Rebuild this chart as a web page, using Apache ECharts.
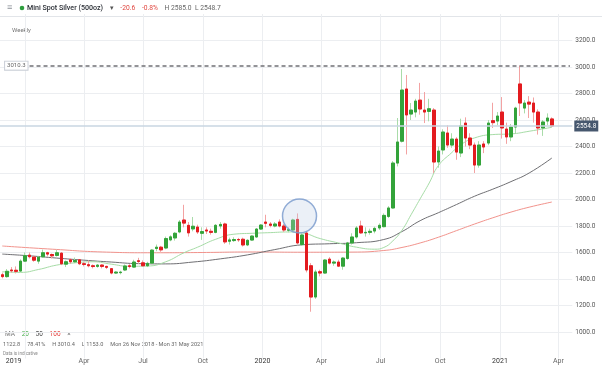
<!DOCTYPE html>
<html><head><meta charset="utf-8">
<script src="https://cdn.jsdelivr.net/npm/echarts@6/dist/echarts.min.js"></script>
<style>html,body{margin:0;padding:0;background:#fff}#c{width:602px;height:369px}</style>
</head><body><div id="c"></div>
<script>
// ---- categories: weekly candles (Monday dates), plus a few empty future weeks
const weeks = [
'2018-11-26','2018-12-03','2018-12-10','2018-12-17','2018-12-24','2018-12-31',
'2019-01-07','2019-01-14','2019-01-21','2019-01-28','2019-02-04','2019-02-11','2019-02-18','2019-02-25',
'2019-03-04','2019-03-11','2019-03-18','2019-03-25','2019-04-01','2019-04-08','2019-04-15','2019-04-22',
'2019-04-29','2019-05-06','2019-05-13','2019-05-20','2019-05-27','2019-06-03','2019-06-10','2019-06-17',
'2019-06-24','2019-07-01','2019-07-08','2019-07-15','2019-07-22','2019-07-29','2019-08-05','2019-08-12',
'2019-08-19','2019-08-26','2019-09-02','2019-09-09','2019-09-16','2019-09-23','2019-09-30','2019-10-07',
'2019-10-14','2019-10-21','2019-10-28','2019-11-04','2019-11-11','2019-11-18','2019-11-25','2019-12-02',
'2019-12-09','2019-12-16','2019-12-23','2019-12-30',
'2020-01-06','2020-01-13','2020-01-20','2020-01-27','2020-02-03','2020-02-10','2020-02-17','2020-02-24',
'2020-03-02','2020-03-09','2020-03-16','2020-03-23','2020-03-30','2020-04-06','2020-04-13','2020-04-20',
'2020-04-27','2020-05-04','2020-05-11','2020-05-18','2020-05-25','2020-06-01','2020-06-08','2020-06-15',
'2020-06-22','2020-06-29','2020-07-06','2020-07-13','2020-07-20','2020-07-27','2020-08-03','2020-08-10',
'2020-08-17','2020-08-24','2020-08-31','2020-09-07','2020-09-14','2020-09-21','2020-09-28','2020-10-05',
'2020-10-12','2020-10-19','2020-10-26','2020-11-02','2020-11-09','2020-11-16','2020-11-23','2020-11-30',
'2020-12-07','2020-12-14','2020-12-21','2020-12-28',
'2021-01-04','2021-01-11','2021-01-18','2021-01-25','2021-02-01','2021-02-08','2021-02-15','2021-02-22',
'2021-03-01','2021-03-08','2021-03-15','2021-03-22','2021-03-29','2021-04-05','2021-04-12','2021-04-19'
];
// ---- weekly OHLC: [open, close, low, high]
const ohlc = [
[1432,1418,1405,1448],[1418,1458,1410,1475],[1468,1462,1448,1490],[1466,1458,1442,1495],[1460,1535,1455,1548],[1535,1576,1528,1600],
[1580,1568,1555,1600],[1565,1542,1530,1575],[1535,1565,1515,1575],[1568,1598,1560,1622],[1598,1588,1570,1605],[1585,1575,1555,1592],
[1578,1598,1570,1620],[1595,1515,1505,1602],[1512,1530,1490,1540],[1545,1530,1515,1555],[1530,1540,1520,1562],[1545,1515,1505,1550],
[1515,1510,1495,1530],[1508,1500,1488,1540],[1500,1494,1480,1510],[1495,1505,1485,1512],[1505,1495,1480,1512],[1495,1488,1475,1500],
[1478,1445,1435,1482],[1445,1452,1438,1460],[1448,1452,1435,1462],[1468,1498,1460,1510],[1500,1494,1480,1512],[1490,1528,1485,1545],
[1538,1532,1515,1560],[1522,1500,1495,1540],[1500,1518,1490,1530],[1520,1618,1515,1625],[1630,1640,1610,1660],[1640,1620,1605,1650],
[1634,1705,1625,1720],[1695,1718,1685,1730],[1710,1745,1690,1755],[1755,1830,1745,1845],[1845,1822,1790,1960],[1805,1748,1720,1830],
[1778,1798,1760,1868],[1792,1755,1740,1810],[1745,1758,1695,1790],[1770,1762,1740,1790],[1760,1752,1735,1780],[1752,1805,1745,1815],
[1800,1812,1780,1830],[1815,1680,1665,1825],[1685,1695,1660,1712],[1690,1698,1680,1715],[1698,1695,1680,1710],[1700,1657,1645,1712],
[1657,1692,1648,1700],[1694,1724,1688,1730],[1717,1777,1712,1785],[1777,1807,1770,1815],[1830,1820,1790,1885],[1815,1805,1790,1830],
[1800,1815,1790,1830],[1830,1800,1790,1850],[1800,1770,1755,1815],[1768,1772,1752,1790],[1770,1845,1760,1855],[1850,1672,1660,1895],
[1660,1732,1650,1745],[1747,1468,1450,1760],[1500,1264,1153,1520],[1264,1453,1250,1470],[1455,1445,1420,1470],[1445,1543,1440,1550],
[1550,1520,1510,1565],[1520,1528,1500,1540],[1528,1497,1490,1545],[1497,1558,1470,1565],[1555,1672,1545,1680],[1672,1717,1660,1745],
[1717,1785,1705,1800],[1800,1748,1740,1840],[1748,1752,1720,1790],[1752,1760,1735,1780],[1762,1782,1745,1795],[1785,1805,1770,1820],
[1795,1880,1790,1895],[1872,1936,1860,1950],[1936,2275,1930,2290],[2275,2434,2250,2615],[2440,2826,2430,2985],[2834,2638,2340,2940],
[2645,2675,2600,2728],[2660,2743,2620,2760],[2750,2683,2640,2880],[2675,2660,2577,2811],[2665,2685,2590,2760],[2675,2283,2200,2690],
[2283,2366,2240,2400],[2374,2509,2340,2530],[2502,2411,2390,2560],[2411,2456,2390,2500],[2456,2358,2300,2470],[2351,2555,2320,2610],
[2577,2464,2400,2620],[2464,2411,2380,2500],[2411,2260,2200,2430],[2260,2411,2240,2440],[2419,2396,2350,2440],[2426,2577,2410,2600],
[2595,2580,2540,2730],[2592,2630,2560,2660],[2660,2540,2460,2773],[2532,2472,2420,2580],[2472,2547,2440,2570],[2547,2690,2500,2700],
[2872,2728,2630,3010.4],[2690,2728,2650,2750],[2735,2720,2615,2780],[2728,2660,2580,2770],[2660,2540,2490,2680],[2540,2585,2480,2600],
[2592,2615,2560,2650],[2608,2554.8,2545,2620]
];
const ma20Dates = ['2018-11-26','2018-12-24','2019-01-21','2019-02-18','2019-03-18','2019-04-15','2019-05-13','2019-06-10','2019-07-08','2019-08-05','2019-09-02','2019-09-23','2019-10-21','2019-11-18','2019-12-16','2020-01-13','2020-02-10','2020-03-02','2020-03-30','2020-04-27','2020-05-25','2020-06-22','2020-07-06','2020-07-20','2020-08-03','2020-08-17','2020-08-31','2020-09-14','2020-09-28','2020-10-19','2020-11-02','2020-11-23','2020-12-21','2021-01-18','2021-02-15','2021-03-22'];
const ma20Values = [1455,1450,1472,1505,1522,1530,1512,1496,1498,1530,1598,1640,1700,1738,1745,1750,1755,1748,1705,1672,1640,1625,1638,1688,1768,1885,2005,2125,2255,2355,2415,2465,2490,2495,2515,2545];
const ma50Dates = ['2018-11-26','2019-01-07','2019-02-18','2019-04-01','2019-05-13','2019-06-24','2019-08-05','2019-09-16','2019-10-28','2019-12-09','2020-01-20','2020-03-02','2020-04-13','2020-05-25','2020-07-06','2020-08-03','2020-08-31','2020-09-28','2020-10-26','2020-11-23','2020-12-21','2021-01-18','2021-02-15','2021-03-22'];
const ma50Values = [1588,1575,1558,1542,1528,1516,1514,1528,1552,1582,1622,1658,1666,1674,1698,1758,1840,1900,1962,2025,2078,2135,2200,2313];
const ma100Dates = ['2018-11-26','2019-02-11','2019-04-29','2019-07-15','2019-09-30','2019-12-16','2020-03-02','2020-05-18','2020-07-06','2020-08-03','2020-08-31','2020-09-28','2020-10-26','2020-11-23','2020-12-21','2021-01-18','2021-02-15','2021-03-22'];
const ma100Values = [1649,1625,1604,1598,1600,1604,1602,1603,1615,1638,1672,1715,1765,1815,1862,1905,1942,1981];
// ---- x tick labels
const tickDates = ['2019-01-01','2019-04-01','2019-07-01','2019-10-01','2020-01-01','2020-04-01','2020-07-01','2020-10-01','2021-01-01','2021-04-01'];
const tickLabels = ['2019','Apr','Jul','Oct','2020','Apr','Jul','Oct','2021','Apr'];
// ---- reference levels
const lastPrice = 2554.8;
const periodHigh = 3010.3;
const highlightWeek = '2020-02-24';
const highlightLevel = 1875;

const DAY = 864e5;
// time expressed in days since the first week's Monday, for the label/grid axis
const dayOf = d => (Date.parse(d) - Date.parse(weeks[0])) / DAY;
const d0 = -3.5;
const d1 = d0 + weeks.length * 7;
const tickDays = tickDates.map(dayOf);
const FONT = 'Roboto, "Noto Sans", sans-serif';

const chart = echarts.init(document.getElementById('c'), null, {renderer: 'canvas'});
const bodies = ohlc.map(([o, c]) => [o, c, Math.min(o, c), Math.max(o, c)]);
const pair = (ds, vs) => ds.map((d, i) => [d, vs[i]]);

chart.setOption({
  animation: false,
  backgroundColor: '#fff',
  grid: {left: -2.3, right: 29.7, top: 14, bottom: 10.5, containLabel: false},
  xAxis: [
    {type: 'category', data: weeks, boundaryGap: true, show: false},
    {type: 'value', min: d0, max: d1, position: 'bottom',
     axisLine: {show: false},
     axisTick: {show: false, customValues: tickDays},
     splitLine: {show: true, lineStyle: {color: '#eceef1', width: 1}},
     axisLabel: {customValues: tickDays, margin: -1, fontSize: 7, fontFamily: FONT, color: '#666',
       showMinLabel: true, showMaxLabel: true,
       formatter: (v) => { let k = -1; tickDays.forEach((t, j) => { if (Math.abs(t - v) < 0.01) k = j; });
         const s = k >= 0 ? tickLabels[k] : '';
         if (k === 0) return '{f|' + s + '}';
         return /^\d{4}$/.test(s) ? '{y|' + s + '}' : s; },
       rich: {y: {fontSize: 7, color: '#333', fontFamily: FONT}, f: {fontSize: 7, color: '#333', fontFamily: FONT, padding: [0, 24, 0, 0]}}}
    }
  ],
  yAxis: {type: 'value', position: 'right', min: 800, max: 3400, interval: 200,
    axisLine: {show: false}, axisTick: {show: false},
    splitLine: {show: true, showMinLine: false, showMaxLine: false, lineStyle: {color: '#eceef1', width: 1}},
    axisLabel: {margin: 3, fontSize: 6.5, color: '#555', fontFamily: FONT, showMinLabel: false, showMaxLabel: false,
      formatter: v => v.toFixed(1)}
  },
  graphic: [
    {type: 'line', shape: {x1: 0, y1: 16.5, x2: 602, y2: 16.5}, style: {stroke: '#e2e5e9', lineWidth: 1}, silent: true},
    {type: 'text', x: 7, y: 8, style: {text: '≡', fill: '#8a8f96', font: '9px ' + FONT, verticalAlign: 'middle'}},
    {type: 'circle', shape: {cx: 22, cy: 8, r: 2.3}, style: {fill: '#2e9e3e'}},
    {type: 'text', x: 27, y: 8, style: {
      text: '{n|Mini Spot Silver (500oz)}  {a|▾}  {r|-20.6}  {r|-0.8%}  {g|H 2585.0  L 2548.7}',
      verticalAlign: 'middle',
      rich: {
        n: {fontSize: 7.1, fontFamily: FONT, fontWeight: 500, fill: '#2b2f36'},
        a: {fontSize: 6.5, fontFamily: FONT, fill: '#555'},
        r: {fontSize: 6.7, fontFamily: FONT, fill: '#e0463f'},
        g: {fontSize: 6.7, fontFamily: FONT, fill: '#666'}
      }}},
    {type: 'text', x: 12, y: 30, style: {text: 'Weekly', fill: '#777', font: '6px ' + FONT, verticalAlign: 'middle'}},
    {type: 'text', x: 5, y: 334, style: {
      text: '{g|MA}  {a|20}  {b|50}  {c|100}  {g|×}', verticalAlign: 'middle',
      rich: {g: {fontSize: 6.5, fontFamily: FONT, fill: '#777'}, a: {fontSize: 6.5, fontFamily: FONT, fill: '#4caf50'},
             b: {fontSize: 6.5, fontFamily: FONT, fill: '#444'}, c: {fontSize: 6.5, fontFamily: FONT, fill: '#e53935'}}}},
    {type: 'text', x: 3, y: 345, style: {text: '1122.8     78.41%     H 3010.4     L 1153.0     Mon 26 Nov 2018 - Mon 31 May 2021',
      fill: '#666', font: '5.6px ' + FONT, verticalAlign: 'middle'}},
    {type: 'text', x: 3, y: 354, style: {text: 'Data is indicative', fill: '#888', font: '4.6px ' + FONT, verticalAlign: 'middle'}}
  ],
  series: [
    {name: 'MA100', type: 'line', xAxisIndex: 0, data: pair(ma100Dates, ma100Values), smooth: true, showSymbol: false,
     lineStyle: {color: '#f2938c', width: 1}, silent: true, z: 2},
    {name: 'MA50', type: 'line', xAxisIndex: 0, data: pair(ma50Dates, ma50Values), smooth: true, showSymbol: false,
     lineStyle: {color: '#6f6f73', width: 1}, silent: true, z: 2},
    {name: 'MA20', type: 'line', xAxisIndex: 0, data: pair(ma20Dates, ma20Values), smooth: true, showSymbol: false,
     lineStyle: {color: '#a6dca6', width: 1}, silent: true, z: 2},
    {name: 'wicks', type: 'candlestick', xAxisIndex: 0, data: ohlc, barWidth: 3, z: 3,
     itemStyle: {color: '#a9dca9', color0: '#f3a2a2', borderColor: '#a9dca9', borderColor0: '#f3a2a2', borderWidth: 1}},
    {name: 'bodies', type: 'candlestick', xAxisIndex: 0, data: bodies, barWidth: 3, z: 4,
     itemStyle: {color: '#33a33a', color0: '#e31b1f', borderColor: '#33a33a', borderColor0: '#e31b1f', borderWidth: 1},
     markLine: {silent: true, symbol: 'none', animation: false,
       data: [
         [{coord: [weeks[6], periodHigh], lineStyle: {color: '#707075', width: 1.5, type: [4, 3]},
           label: {show: true, position: 'start', formatter: periodHigh.toFixed(1), distance: 2, fontSize: 6, fontFamily: FONT,
             color: '#666', backgroundColor: '#fff', borderColor: '#c9ced6', borderWidth: 1, padding: [1, 2]}},
          {coord: [weeks[weeks.length - 1], periodHigh]}],
         {yAxis: lastPrice, lineStyle: {color: '#c9d6e2', width: 1.5, type: 'solid'},
          label: {show: true, position: 'end', formatter: lastPrice.toFixed(1), distance: 2, fontSize: 6.5, fontFamily: FONT,
            color: '#fff', backgroundColor: '#46576e', padding: [2, 2]}}
       ]}},
    {name: 'highlight', type: 'scatter', xAxisIndex: 0, data: [[highlightWeek, highlightLevel]], symbolSize: 34,
     symbolOffset: [2, 0], z: 6, silent: true,
     itemStyle: {color: 'rgba(190,206,228,0.38)', borderColor: '#7799cc', borderWidth: 1.5}}
  ]
});
</script></body></html>
